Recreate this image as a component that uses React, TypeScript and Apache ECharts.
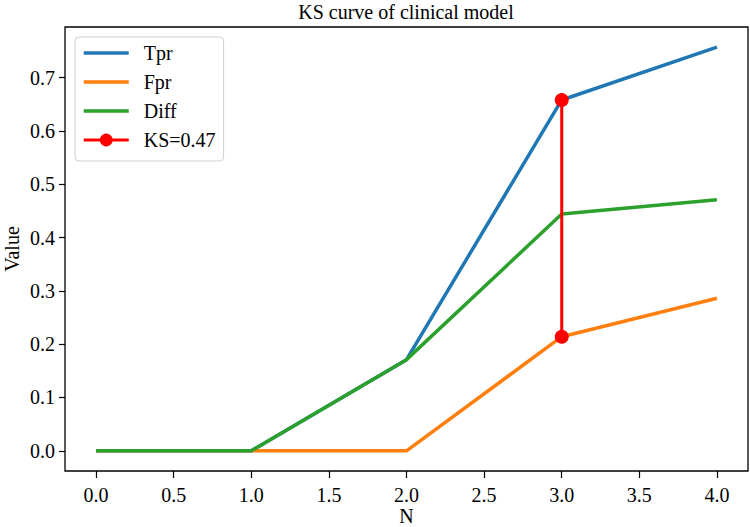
import React, { useEffect, useRef } from "react";
import * as echarts from "echarts";

const xValues = [0, 1, 2, 3, 4];
const tpr = [0, 0, 0.171, 0.658, 0.757];
const fpr = [0, 0, 0, 0.214, 0.286];
const diff = [0, 0, 0.171, 0.444, 0.471];
const ksX = 3;
const ksLabel = "KS=0.47";
const xTicks = [0, 0.5, 1, 1.5, 2, 2.5, 3, 3.5, 4];
const yTicks = [0, 0.1, 0.2, 0.3, 0.4, 0.5, 0.6, 0.7];

const FONT = "'Liberation Serif', 'Times New Roman', serif";
const FS = 20;
const C_TPR = "#1f77b4";
const C_FPR = "#ff7f0e";
const C_DIFF = "#2ca02c";
const C_KS = "#ff0000";

export default function App() {
  const ref = useRef<HTMLDivElement>(null);
  useEffect(() => {
    if (!ref.current) return;
    const chart = echarts.init(ref.current, null, { renderer: "svg" });
    const pair = (ys: number[]) => xValues.map((x, i) => [x, ys[i]]);
    const ksIdx = xValues.indexOf(ksX);
    const ymaxData = Math.max(...tpr);
    const pad = ymaxData * 0.05;
    const legendItem = (name: string, color: string) => ({
      name,
      itemStyle: { opacity: 0 },
      lineStyle: { color, width: 3.5 },
    });
    chart.setOption({
      animation: false,
      backgroundColor: "#fff",
      textStyle: { fontFamily: FONT },
      title: {
        text: "KS curve of clinical model",
        left: 406,
        top: 2,
        padding: 0,
        textAlign: "center",
        textStyle: { fontFamily: FONT, fontSize: FS, fontWeight: "normal", color: "#000" },
      },
      grid: {
        left: 65,
        right: 2,
        top: 27,
        bottom: 56,
        containLabel: false,
        outerBoundsMode: "none",
        show: true,
        borderColor: "#000",
        borderWidth: 1.3,
        backgroundColor: "transparent",
      },
      legend: {
        orient: "vertical",
        left: 75,
        top: 37,
        padding: [6, 8, 11, 7],
        itemGap: 9,
        itemWidth: 45,
        itemHeight: 16,
        backgroundColor: "#fff",
        borderColor: "#d0d0d0",
        borderWidth: 1,
        borderRadius: 4,
        textStyle: {
          fontFamily: FONT,
          fontSize: FS,
          color: "#000",
          lineHeight: 20,
          padding: [0, 0, 0, 10],
        },
        data: [
          legendItem("Tpr", C_TPR),
          legendItem("Fpr", C_FPR),
          legendItem("Diff", C_DIFF),
          { name: ksLabel, lineStyle: { color: C_KS, width: 3 } },
        ],
      },
      xAxis: {
        type: "value",
        min: -0.2,
        max: 4.2,
        name: "N",
        nameLocation: "middle",
        nameGap: 35,
        nameMoveOverlap: false,
        nameTextStyle: { fontFamily: FONT, fontSize: FS, color: "#000", lineHeight: 20 },
        axisLine: { show: false, onZero: false },
        splitLine: { show: false },
        axisTick: {
          show: true,
          length: 7,
          customValues: xTicks,
          lineStyle: { color: "#000", width: 1.2 },
        },
        axisLabel: {
          customValues: xTicks,
          margin: 14,
          fontFamily: FONT,
          fontSize: FS,
          color: "#000",
          formatter: (v: number) => v.toFixed(1),
        },
      },
      yAxis: {
        type: "value",
        min: -pad,
        max: ymaxData + pad,
        name: "Value",
        nameLocation: "middle",
        nameGap: 43,
        nameMoveOverlap: false,
        nameTextStyle: { fontFamily: FONT, fontSize: FS, color: "#000", lineHeight: 20 },
        axisLine: { show: false, onZero: false },
        splitLine: { show: false },
        axisTick: {
          show: true,
          length: 6,
          customValues: yTicks,
          lineStyle: { color: "#000", width: 1.2 },
        },
        axisLabel: {
          customValues: yTicks,
          margin: 10,
          fontFamily: FONT,
          fontSize: FS,
          color: "#000",
          formatter: (v: number) => v.toFixed(1),
        },
      },
      series: [
        {
          name: "Tpr",
          type: "line",
          data: pair(tpr),
          symbol: "none",
          lineStyle: { color: C_TPR, width: 3.5 },
          itemStyle: { color: C_TPR },
        },
        {
          name: "Fpr",
          type: "line",
          data: pair(fpr),
          symbol: "none",
          lineStyle: { color: C_FPR, width: 3.5 },
          itemStyle: { color: C_FPR },
        },
        {
          name: "Diff",
          type: "line",
          data: pair(diff),
          symbol: "none",
          lineStyle: { color: C_DIFF, width: 3.5 },
          itemStyle: { color: C_DIFF },
        },
        {
          name: ksLabel,
          type: "line",
          data: [
            [ksX, tpr[ksIdx]],
            [ksX, fpr[ksIdx]],
          ],
          symbol: "circle",
          symbolSize: 14,
          lineStyle: { color: C_KS, width: 3 },
          itemStyle: { color: C_KS },
          z: 5,
        },
      ],
    });
    return () => chart.dispose();
  }, []);
  return (
    <div
      ref={ref}
      style={{ position: "absolute", left: 0, top: 0, width: 750, height: 527 }}
    />
  );
}
